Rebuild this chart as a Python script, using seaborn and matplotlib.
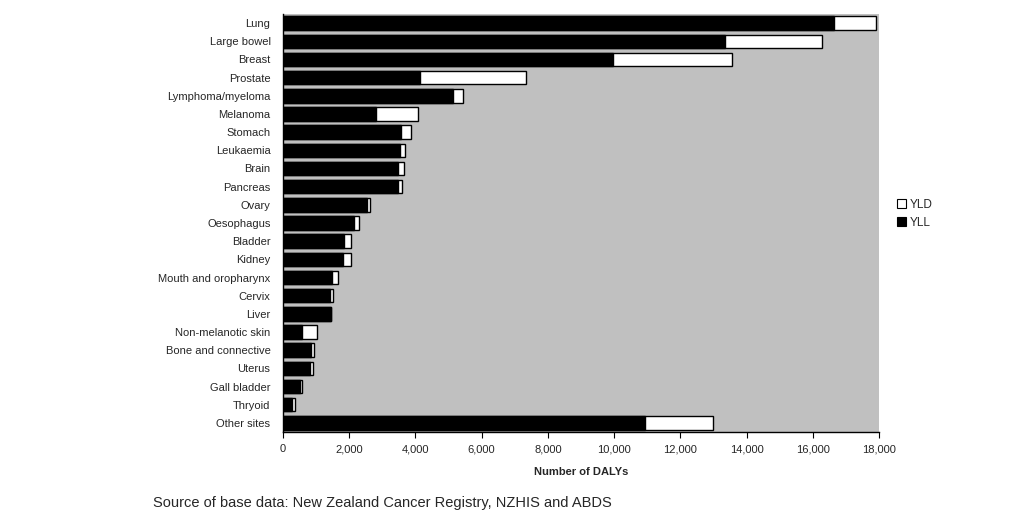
import matplotlib
matplotlib.use("Agg")
import matplotlib.pyplot as plt
import seaborn as sns
import pandas as pd
from matplotlib.patches import Patch
from matplotlib.ticker import FuncFormatter

sites = ["Lung", "Large bowel", "Breast", "Prostate", "Lymphoma/myeloma", "Melanoma",
         "Stomach", "Leukaemia", "Brain", "Pancreas", "Ovary", "Oesophagus", "Bladder",
         "Kidney", "Mouth and oropharynx", "Cervix", "Liver", "Non-melanotic skin",
         "Bone and connective", "Uterus", "Gall bladder", "Thryoid", "Other sites"]
yll = [16650, 13350, 9970, 4150, 5120, 2800, 3560, 3530, 3460, 3460, 2530, 2140, 1840,
       1820, 1480, 1420, 1450, 580, 850, 820, 520, 280, 10940]
yld = [1260, 2940, 3580, 3200, 320, 1290, 320, 160, 200, 140, 110, 170, 210,
       230, 180, 80, 10, 450, 100, 100, 45, 70, 2060]

df = pd.DataFrame({"site": sites, "YLL": yll, "YLD": yld})
df["total"] = df["YLL"] + df["YLD"]

sns.set_theme(style="white")
plt.rcParams["font.family"] = ["Liberation Sans", "DejaVu Sans"]

fig = plt.figure(figsize=(10.15, 5.19), dpi=100)
ax = fig.add_axes([283/1015, (519-432)/519, 596/1015, 418/519])
ax.set_facecolor("#c0c0c0")

sns.barplot(data=df, x="total", y="site", color="white", saturation=1,
            edgecolor="black", linewidth=1.0, width=0.74, ax=ax, orient="h")
sns.barplot(data=df, x="YLL", y="site", color="black", saturation=1,
            edgecolor="black", linewidth=1.0, width=0.74, ax=ax, orient="h")

ax.set_xlim(0, 18000)
ax.set_ylim(len(sites) - 0.5, -0.5)
ax.set_xticks(range(0, 18001, 2000))
ax.xaxis.set_major_formatter(FuncFormatter(lambda v, p: f"{int(v):,}"))
ax.set_xlabel("Number of DALYs", fontsize=8, fontweight="bold", labelpad=9)
ax.set_ylabel("")
ax.tick_params(axis="x", length=4, width=0.8, color="black", labelsize=8, pad=5, direction="out", bottom=True)
ax.tick_params(axis="y", length=0, labelsize=8, pad=9)
for s in ["top", "right"]:
    ax.spines[s].set_visible(False)
for s in ["left", "bottom"]:
    ax.spines[s].set_visible(True)
    ax.spines[s].set_color("black")
    ax.spines[s].set_linewidth(1.0)

handles = [Patch(facecolor="white", edgecolor="black", linewidth=0.8, label="YLD"),
           Patch(facecolor="black", edgecolor="black", linewidth=0.8, label="YLL")]
fig.legend(handles=handles, loc="center left", bbox_to_anchor=(892/1015, 1 - 214/519),
           frameon=False, fontsize=8.5, handlelength=0.8, handleheight=0.8,
           handletextpad=0.3, labelspacing=0.5, borderaxespad=0)

fig.text(153/1015, 1 - 503/519, "Source of base data: New Zealand Cancer Registry, NZHIS and ABDS",
         fontsize=10.5, va="center", ha="left")

fig.savefig("out.png", dpi=100)
